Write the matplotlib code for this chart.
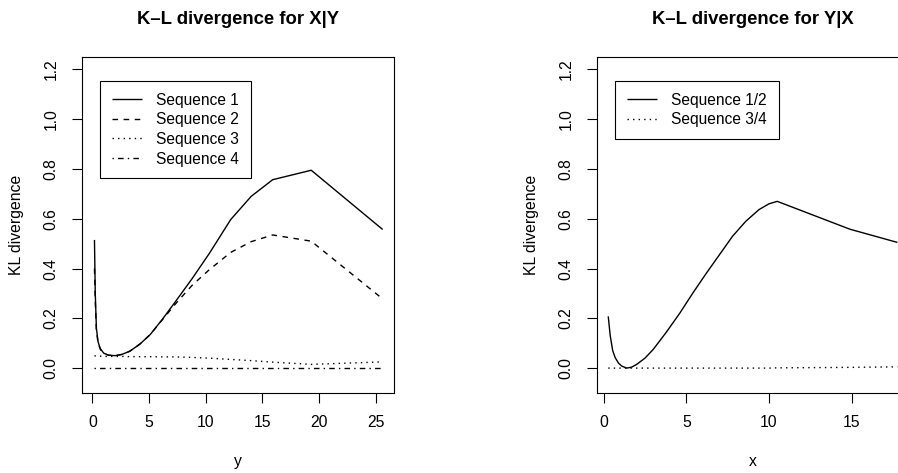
"""Divergencias K-L para X|Y y Y|X, al estilo de un grafico base de R."""

import matplotlib
matplotlib.use('Agg')
import matplotlib.pyplot as plt

plt.rcParams['font.family'] = ['Liberation Sans', 'DejaVu Sans']

# panel izquierdo: X|Y frente a y
y_vals = [0.18, 0.25, 0.35, 0.5, 0.7, 1.0, 1.4, 2.0, 2.6, 3.3, 4.2, 5.1,
          6.2, 7.4, 8.8, 10.3, 12.2, 14.0, 15.9, 19.3, 25.6]
seq1 = [0.515, 0.30, 0.16, 0.105, 0.078, 0.06, 0.052, 0.050, 0.055, 0.068,
        0.097, 0.135, 0.198, 0.272, 0.36, 0.46, 0.597, 0.69, 0.757, 0.795,
        0.557]
seq2 = [0.40, 0.27, 0.15, 0.10, 0.075, 0.06, 0.052, 0.050, 0.055, 0.068,
        0.097, 0.135, 0.196, 0.262, 0.333, 0.395, 0.465, 0.508, 0.535, 0.51,
        0.278]
seq3 = [0.05, 0.049, 0.049, 0.048, 0.048, 0.047, 0.047, 0.047, 0.047,
        0.046, 0.046, 0.046, 0.045, 0.045, 0.043, 0.04, 0.035, 0.03, 0.024,
        0.015, 0.025]
seq4 = [0.0] * len(y_vals)
left_labels = ['Sequence 1', 'Sequence 2', 'Sequence 3', 'Sequence 4']

# panel derecho: Y|X frente a x
x_vals = [0.28, 0.4, 0.55, 0.7, 0.9, 1.1, 1.4, 1.7, 2.0, 2.5, 3.0, 3.8, 4.6,
          5.4, 6.2, 7.0, 7.8, 8.6, 9.4, 10.0, 10.5, 14.9, 17.77]
seq12 = [0.208, 0.13, 0.07, 0.042, 0.02, 0.008, 0.0, 0.004, 0.015, 0.04,
         0.075, 0.145, 0.22, 0.302, 0.38, 0.455, 0.53, 0.59, 0.637, 0.66,
         0.67, 0.558, 0.505]
seq34 = [0.0] * 20 + [0.001, 0.003, 0.005]
right_labels = ['Sequence 1/2', 'Sequence 3/4']

y_ticks = [0.0, 0.2, 0.4, 0.6, 0.8, 1.0, 1.2]

W, H = 898, 473
fig = plt.figure(figsize=(W / 100, H / 100), dpi=100)

# tipos de linea de R: lty 1, 2, 3, 4
styles = [(0, ()), (0, (4, 4)), (0, (1, 3)), (0, (1, 3, 4, 3))]


def r_axes(left_px, xlim, xticks, title, xlabel):
    ax = fig.add_axes([left_px / W, (H - 393) / H, 312 / W, 336 / H])
    ax.set_xlim(*xlim)
    ax.set_ylim(-0.1, 1.25)
    ax.set_xticks(xticks)
    ax.set_yticks(y_ticks)
    ax.set_yticklabels(['%.1f' % t for t in y_ticks], rotation=90,
                       va='center')
    ax.tick_params(direction='out', length=7, width=0.8, labelsize=11.3,
                   pad=9)
    ax.tick_params(axis='y', pad=10)
    for s in ax.spines.values():
        s.set_linewidth(0.8)
    ax.set_title(title, fontsize=13.3, fontweight='bold', y=1.098, pad=0)
    ax.set_xlabel(xlabel, fontsize=11.3, va='baseline')
    ax.xaxis.set_label_coords(0.5, (393 - 466) / 336)
    ax.set_ylabel('KL divergence', fontsize=11.3)
    ax.yaxis.set_label_coords(-58 / 312, 0.5)
    return ax


def r_legend(ax, x0):
    leg = ax.legend(loc='upper left', bbox_to_anchor=(x0, 0.929),
                    frameon=True, fancybox=False, fontsize=11.2,
                    handlelength=1.95, handletextpad=0.9, borderpad=0.75,
                    labelspacing=0.3, borderaxespad=0)
    frame = leg.get_frame()
    frame.set_edgecolor('black')
    frame.set_linewidth(0.8)
    frame.set_alpha(1)


ax1 = r_axes(82, (-0.92, 26.6), [0, 5, 10, 15, 20, 25],
             'K\u2013L divergence for X|Y', 'y')
for vals, ls, lab in zip([seq1, seq2, seq3, seq4], styles, left_labels):
    ax1.plot(y_vals, vals, color='black', lw=1.0, linestyle=ls, label=lab,
             dash_capstyle='butt')
r_legend(ax1, 0.058)

ax2 = r_axes(597, (-0.4, 18.47), [0, 5, 10, 15],
             'K\u2013L divergence for Y|X', 'x')
for vals, ls, lab in zip([seq12, seq34], [styles[0], styles[2]],
                         right_labels):
    ax2.plot(x_vals, vals, color='black', lw=1.0, linestyle=ls, label=lab,
             dash_capstyle='butt')
r_legend(ax2, 0.059)

fig.savefig('out.png', dpi=100)
